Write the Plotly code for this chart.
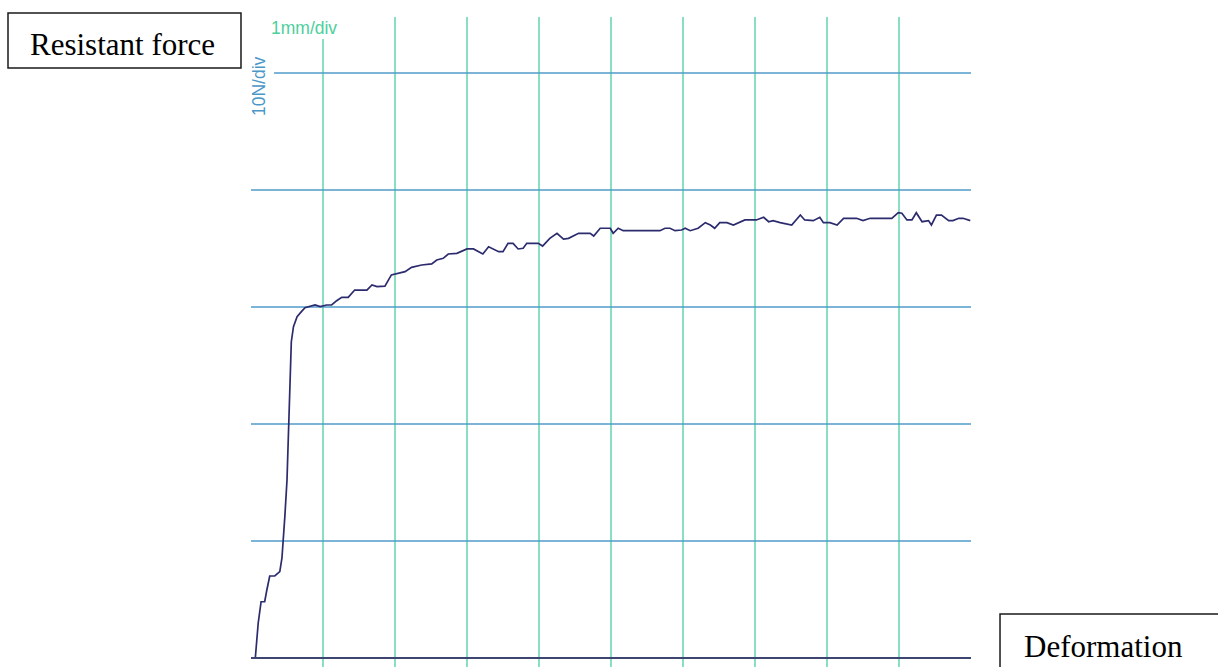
import plotly.graph_objects as go

# Force–deformation record (deformation in mm, force in N)
deformation_mm = [
    0.06, 0.10, 0.14, 0.19, 0.22, 0.26, 0.33, 0.40, 0.43, 0.45, 0.47, 0.50,
    0.52, 0.54, 0.56, 0.59, 0.64, 0.70, 0.75, 0.89, 0.96, 1.05, 1.12, 1.19,
    1.26, 1.35, 1.44, 1.61, 1.68, 1.75, 1.86, 1.95, 2.02, 2.14, 2.23, 2.37,
    2.51, 2.58, 2.67, 2.74, 2.86, 3.00, 3.09, 3.22, 3.30, 3.44, 3.50, 3.57,
    3.64, 3.71, 3.78, 3.83, 3.99, 4.05, 4.15, 4.25, 4.34, 4.41, 4.55, 4.71,
    4.76, 4.85, 4.99, 5.03, 5.10, 5.17, 5.68, 5.75, 5.82, 5.89, 5.98, 6.03,
    6.10, 6.21, 6.31, 6.38, 6.44, 6.51, 6.61, 6.70, 6.86, 7.02, 7.12, 7.19,
    7.25, 7.35, 7.51, 7.63, 7.69, 7.81, 7.90, 7.95, 8.04, 8.14, 8.23, 8.41,
    8.50, 8.60, 8.90, 8.99, 9.04, 9.11, 9.18, 9.24, 9.32, 9.41, 9.45, 9.52,
    9.59, 9.69, 9.75, 9.83, 9.89, 9.99,
]
force_n = [
    0.00, 2.99, 4.81, 4.81, 5.81, 7.01, 7.01, 7.38, 8.55, 10.09, 12.08, 15.21,
    19.91, 24.47, 27.03, 28.32, 29.17, 29.60, 29.94, 30.17, 30.03, 30.17, 30.17, 30.54,
    30.83, 30.83, 31.45, 31.45, 31.88, 31.74, 31.79, 32.74, 32.82, 33.02, 33.39, 33.59,
    33.68, 34.02, 34.16, 34.53, 34.59, 34.96, 34.96, 34.53, 35.15, 34.73, 34.73, 35.44,
    35.44, 34.96, 35.02, 35.44, 35.44, 35.21, 35.87, 36.30, 35.81, 35.87, 36.30, 36.30,
    36.07, 36.73, 36.73, 36.30, 36.73, 36.52, 36.52, 36.73, 36.73, 36.52, 36.58, 36.73,
    36.52, 36.73, 37.21, 37.01, 36.73, 37.21, 37.21, 37.01, 37.44, 37.44, 37.67, 37.29,
    37.38, 37.21, 37.01, 37.86, 37.44, 37.38, 37.67, 37.21, 37.21, 37.01, 37.58, 37.58,
    37.38, 37.58, 37.58, 38.06, 38.01, 37.44, 37.44, 38.06, 37.29, 37.38, 37.01, 37.86,
    37.86, 37.38, 37.38, 37.58, 37.58, 37.38,
]

# Grid divisions: 1 mm per vertical division, 10 N per horizontal division
x_divisions = [1, 2, 3, 4, 5, 6, 7, 8, 9]
y_divisions = [10, 20, 30, 40, 50]
x_span = [0, 10]
y_view = [-0.769, 54.786]

x_unit_label = "1mm/div"
y_unit_label = "10N/div"
force_label = "Resistant force"
deformation_label = "Deformation"

GREEN = "#62d6ad"
BLUE = "#4f9bc9"
NAVY = "#2b2b6e"

fig = go.Figure()

fig.add_trace(go.Scatter(
    x=deformation_mm, y=force_n, mode="lines",
    line=dict(color=NAVY, width=1.7), hoverinfo="skip", showlegend=False,
))

shapes = []
# vertical (deformation) grid lines; the first one stops below its unit label
for i, xv in enumerate(x_divisions):
    top = 52.9 if i == 0 else y_view[1]
    shapes.append(dict(type="line", xref="x", yref="y", x0=xv, x1=xv,
                       y0=y_view[0], y1=top, layer="below",
                       line=dict(color=GREEN, width=1.5)))
# horizontal (force) grid lines; the top one starts right of its unit label
for yv in y_divisions:
    left = 0.32 if yv == y_divisions[-1] else x_span[0] - 0.015
    shapes.append(dict(type="line", xref="x", yref="y", x0=left, x1=x_span[1],
                       y0=yv, y1=yv, layer="below",
                       line=dict(color=BLUE, width=1.4)))
# baseline at zero force
shapes.append(dict(type="line", xref="x", yref="y", x0=x_span[0] - 0.015, x1=x_span[1],
                   y0=0, y1=0, line=dict(color="#3d4672", width=2)))
# framed captions
shapes.append(dict(type="rect", xref="paper", yref="paper",
                   x0=-0.3375, x1=-0.0139, y0=0.9215, y1=1.0062,
                   line=dict(color="#1a1a1a", width=1.5)))
shapes.append(dict(type="rect", xref="paper", yref="paper",
                   x0=1.0403, x1=1.40, y0=-0.05, y1=0.0815,
                   line=dict(color="#1a1a1a", width=1.5)))

annotations = [
    dict(text=x_unit_label, xref="paper", yref="paper", x=0.0250, y=0.983,
         xanchor="left", yanchor="middle", showarrow=False,
         font=dict(family="Liberation Sans, Arial", size=17.5, color="#4ccf9c")),
    dict(text=y_unit_label, xref="paper", yref="paper", x=0.0111, y=0.8938,
         xanchor="center", yanchor="middle", showarrow=False, textangle=-90,
         font=dict(family="Liberation Sans, Arial", size=17.5, color="#4a97c8")),
    dict(text=force_label, xref="paper", yref="paper", x=-0.1778, y=0.9577,
         xanchor="center", yanchor="middle", showarrow=False,
         font=dict(family="Liberation Serif, Times New Roman", size=31, color="black")),
    dict(text=deformation_label, xref="paper", yref="paper", x=1.0708, y=0.0315,
         xanchor="left", yanchor="middle", showarrow=False,
         font=dict(family="Liberation Serif, Times New Roman", size=31, color="black")),
]

fig.update_layout(
    width=1218, height=667, autosize=False,
    margin=dict(l=251, r=247, t=17, b=0, pad=0),
    paper_bgcolor="white", plot_bgcolor="white",
    shapes=shapes, annotations=annotations,
    xaxis=dict(range=x_span, visible=False, fixedrange=True),
    yaxis=dict(range=y_view, visible=False, fixedrange=True),
    showlegend=False,
)

fig.write_html("out.html", config={"displayModeBar": False})
